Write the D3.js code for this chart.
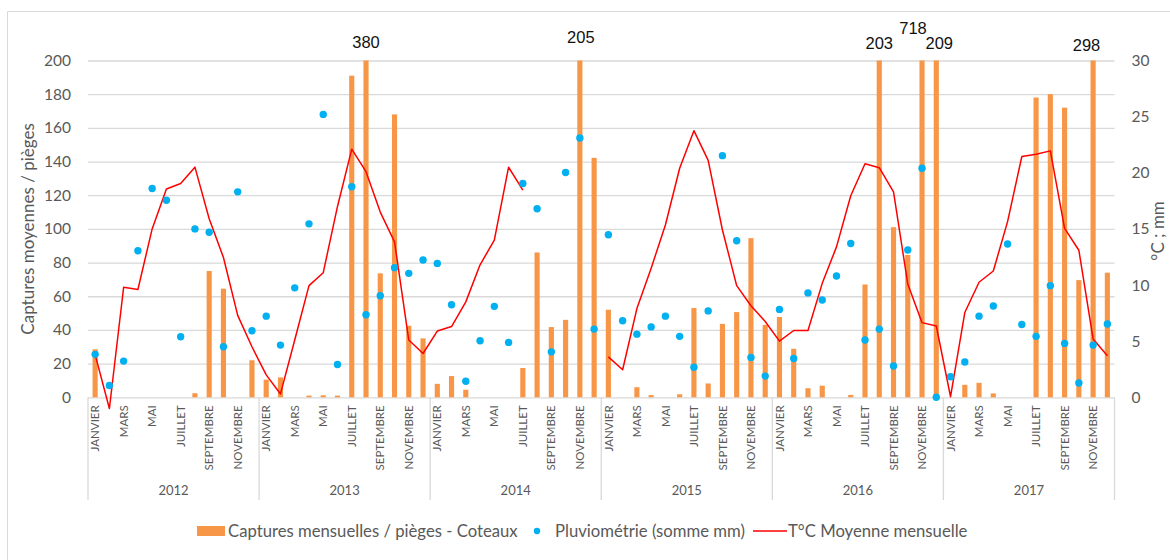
<!DOCTYPE html>
<html><head><meta charset="utf-8">
<script src="https://cdn.jsdelivr.net/npm/d3@7"></script>
<style>
html,body{margin:0;padding:0;background:#fff;}
svg{display:block;}
</style></head>
<body>
<svg id="chart" width="1170" height="560"></svg>
<script>
// ---------- DATA ----------
const years = ["2012","2013","2014","2015","2016","2017"];
const months = ["JANVIER","FÉVRIER","MARS","AVRIL","MAI","JUIN","JUILLET","AOÛT","SEPTEMBRE","OCTOBRE","NOVEMBRE","DÉCEMBRE"];
const leftTicks = [0,20,40,60,80,100,120,140,160,180,200];
const rightTicks = [0,5,10,15,20,25,30];

// Captures mensuelles / pièges - Coteaux
const captures = [
  28.5, 0, 0, 0, 0, 0, 0, 2.4, 75, 64.5, 0, 22,
  10.5, 11.8, 0, 1, 1.2, 1, 191, 380, 73.6, 168, 42.5, 35,
  8, 12.6, 4.5, 0, 0, 0, 17.4, 86, 41.7, 46, 205, 142.2,
  52, 0, 6, 1.3, 0, 1.8, 53, 8.2, 43.6, 50.6, 94.5, 43,
  47.7, 28.8, 5.4, 6.9, 0, 1.4, 67, 203, 101, 84.5, 718, 209,
  0, 7.4, 8.6, 2.3, 0, 0, 178, 180, 172, 69.6, 298, 74
];
// Pluviométrie (somme mm)
const pluvio = [
  25.5, 7, 21.5, 87, 124, 117, 36, 100, 98, 30, 122, 39.5,
  48.2, 31, 65, 103, 168, 19.5, 125, 49, 60.3, 77, 73.6, 81.5,
  79.5, 55, 9.5, 33.6, 54, 32.6, 127, 112, 27, 133.5, 154, 40.5,
  96.5, 45.5, 37.5, 41.8, 48.2, 36.2, 17.8, 51.3, 143.5, 93, 23.7, 12.6,
  52.2, 23, 62, 57.8, 72, 91.3, 34, 40.5, 18.6, 87.5, 136, 0,
  12.2, 21, 48.2, 54.2, 91, 43.2, 36.2, 66.3, 32, 8.5, 31, 43.5
];
// T°C Moyenne mensuelle
const temperature = [
  3.8, -1.0, 9.8, 9.6, 15.0, 18.55, 19.05, 20.5, 15.9, 12.45, 7.3, 4.5,
  2.0, 0.3, 5.1, 9.95, 11.1, 17.0, 22.1, 20.1, 16.5, 13.85, 5.1, 3.9,
  5.9, 6.3, 8.5, 11.8, 14.0, 20.5, 18.45, null, null, null, null, null,
  3.6, 2.45, 7.9, 11.5, 15.35, 20.4, 23.75, 21.1, 14.9, 9.95, 8.15, 6.75,
  5.0, 5.95, 5.95, 10.15, 13.4, 17.95, 20.8, 20.45, 18.3, 10.1, 6.65, 6.35,
  0.05, 7.55, 10.25, 11.25, 15.65, 21.45, 21.65, 21.95, 15.05, 13.1, 5.2, 3.7
];

// ---------- LAYOUT / STYLE ----------
const plot = {left: 88, right: 1114.5, top: 60.5, bottom: 397.3};
const C = {bar:"#F79646", dot:"#00B0F0", line:"#FF0000", grid:"#D9D9D9", text:"#595959"};
const labelNudge = [ // for clipped bars, in order of appearance
  {dx:0, dy:-12.2}, {dx:1, dy:-17.8}, {dx:0, dy:-11.5},
  {dx:-9, dy:-26.2}, {dx:3, dy:-11.5}, {dx:-6.6, dy:-9.8}
];

const svg = d3.select("#chart");
const font = "Lato, 'Open Sans', sans-serif";

const idx = d3.range(years.length * months.length);
const x = d3.scaleBand().domain(idx).range([plot.left, plot.right]).padding(0);
const yL = d3.scaleLinear().domain([0,200]).range([plot.bottom, plot.top]);
const yR = d3.scaleLinear().domain([0,30]).range([plot.bottom, plot.top]);

// outer frame
svg.append("path").attr("d","M7.5,570 V11.5 H1180").attr("fill","none").attr("stroke",C.grid).attr("stroke-width",1);

// gridlines
const grid = svg.append("g").attr("transform",`translate(${plot.left},0)`)
  .call(d3.axisLeft(yL).tickValues(leftTicks).tickSize(-(plot.right-plot.left)).tickFormat(""));
grid.select(".domain").remove();
grid.selectAll("line").attr("stroke",C.grid).attr("stroke-width",1.3);

// left axis labels
const gl = svg.append("g").attr("transform",`translate(${plot.left},0)`)
  .call(d3.axisLeft(yL).tickValues(leftTicks).tickSize(0).tickPadding(17));
gl.select(".domain").remove();
gl.selectAll("text").attr("font-family",font).attr("font-size",15.5).attr("fill",C.text);

// right axis labels
const gr = svg.append("g").attr("transform",`translate(${plot.right},0)`)
  .call(d3.axisRight(yR).tickValues(rightTicks).tickSize(0).tickPadding(17));
gr.select(".domain").remove();
gr.selectAll("text").attr("font-family",font).attr("font-size",15.5).attr("fill",C.text);

// axis titles
svg.append("text").attr("transform",`translate(34,${(plot.top+plot.bottom)/2}) rotate(-90)`)
  .attr("text-anchor","middle").attr("font-family",font).attr("font-size",17).attr("fill",C.text)
  .text("Captures moyennes / pièges");
svg.append("text").attr("transform",`translate(1164,${(plot.top+plot.bottom)/2+2}) rotate(-90)`)
  .attr("text-anchor","middle").attr("font-family",font).attr("font-size",17).attr("fill",C.text)
  .text("°C ; mm");

// bars
const bw = x.bandwidth()*0.36;
const yBar = yL.copy().clamp(true);
svg.append("g").selectAll("rect").data(captures).join("rect")
  .attr("x",(d,i)=>x(i)+x.bandwidth()/2-bw/2)
  .attr("y",d=>yBar(d))
  .attr("width",bw)
  .attr("height",d=>plot.bottom-yBar(d))
  .attr("fill",C.bar);

// labels for clipped bars
const over = captures.map((d,i)=>({d,i})).filter(o=>o.d>200);
svg.append("g").selectAll("text").data(over).join("text")
  .attr("x",(o,k)=>x(o.i)+x.bandwidth()/2+labelNudge[k].dx)
  .attr("y",(o,k)=>yL(200)+labelNudge[k].dy)
  .attr("text-anchor","middle").attr("font-family","'Liberation Sans', Arial, sans-serif")
  .attr("font-size",16.5).attr("fill","#111")
  .text(o=>o.d);

// temperature line
const line = d3.line().defined(d=>d!=null)
  .x((d,i)=>x(i)+x.bandwidth()/2).y(d=>yR(d));
svg.append("path").datum(temperature).attr("d",line)
  .attr("fill","none").attr("stroke",C.line).attr("stroke-width",1.5).attr("stroke-linejoin","round");

// rain dots
svg.append("g").selectAll("circle").data(pluvio).join("circle")
  .attr("cx",(d,i)=>x(i)+x.bandwidth()/2).attr("cy",d=>yL(d)).attr("r",3.7).attr("fill",C.dot);

// category axis: months
const gx = svg.append("g").attr("transform",`translate(0,${plot.bottom})`)
  .call(d3.axisBottom(x).tickSize(0).tickFormat(i=> (i%2===0) ? months[i%12] : ""));
gx.select(".domain").remove();
gx.selectAll("text").attr("font-family",font).attr("font-size",11.5).attr("fill",C.text)
  .attr("transform","rotate(-90)").attr("text-anchor","end")
  .attr("x",-8).attr("y",0).attr("dy","0.36em");

// year separators & labels
const yearBounds = d3.range(years.length+1).map(k=> k<years.length ? x(k*12) : plot.right);
svg.append("g").selectAll("line").data(yearBounds).join("line")
  .attr("x1",d=>d).attr("x2",d=>d).attr("y1",plot.bottom).attr("y2",500)
  .attr("stroke",C.grid).attr("stroke-width",1.3);
svg.append("g").selectAll("text").data(years).join("text")
  .attr("x",(d,k)=>(yearBounds[k]+yearBounds[k+1])/2).attr("y",495)
  .attr("text-anchor","middle").attr("font-family",font).attr("font-size",13).attr("fill",C.text)
  .text(d=>d);

// legend
const lg = svg.append("g").attr("font-family",font).attr("font-size",16.7).attr("fill",C.text);
lg.append("rect").attr("x",197).attr("y",526).attr("width",28).attr("height",10).attr("fill",C.bar);
lg.append("text").attr("x",228).attr("y",537).text("Captures mensuelles / pièges - Coteaux");
lg.append("circle").attr("cx",537).attr("cy",531).attr("r",3.2).attr("fill",C.dot);
lg.append("text").attr("x",555).attr("y",537).text("Pluviométrie (somme mm)");
lg.append("line").attr("x1",753).attr("x2",787).attr("y1",531).attr("y2",531).attr("stroke",C.line).attr("stroke-width",1.5);
lg.append("text").attr("x",788).attr("y",537).text("T°C Moyenne mensuelle");
</script>
</body></html>
